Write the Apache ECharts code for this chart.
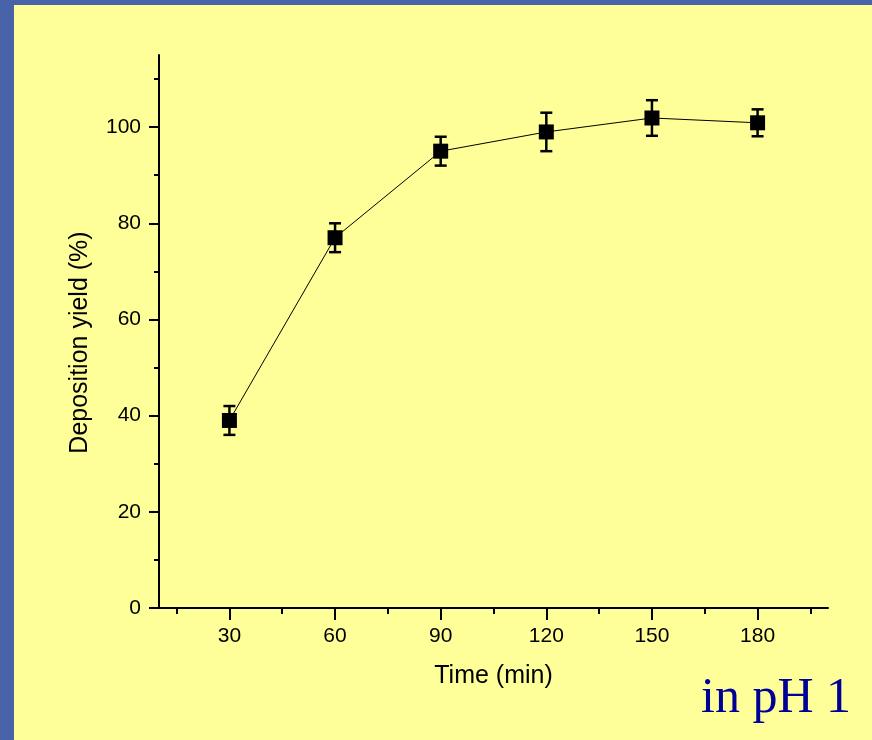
<!DOCTYPE html>
<html>
<head>
<meta charset="utf-8">
<title>Deposition yield vs time</title>
<script src="https://cdn.jsdelivr.net/npm/echarts@6/dist/echarts.min.js"></script>
<style>
  html, body { margin: 0; padding: 0; background: #ffff99; }
  #chart { width: 872px; height: 740px; }
</style>
</head>
<body>
<div id="chart"></div>
<script>
// data
const times = [30, 60, 90, 120, 150, 180]
const yields = [39, 77, 95, 99, 101.9, 100.9]
const errors = [3, 3, 3, 4, 3.7, 2.8]

const xMajorTicks = [30, 60, 90, 120, 150, 180]
const xMinorTicks = [15, 45, 75, 105, 135, 165, 195]
const yMajorTicks = [0, 20, 40, 60, 80, 100]
const yMinorTicks = [10, 30, 50, 70, 90, 110]

const fontSans = '"Liberation Sans", Arial, sans-serif'

const chart = echarts.init(document.getElementById('chart'), null, { renderer: 'canvas' })

// points + error bar ends
const points = times.map((t, i) => [t, yields[i]])
const bars = times.map((t, i) => [t, yields[i] - errors[i], yields[i] + errors[i]])

const axisLine = { show: true, onZero: false, lineStyle: { color: '#000', width: 2 } }

const option = {
    backgroundColor: '#ffff99',
    animation: false,
    grid: { left: 159, right: 44, top: 55, bottom: 132 },
    xAxis: [
        {
            type: 'value',
            position: 'bottom',
            min: 10,
            max: 200,
            name: 'Time (min)',
            nameLocation: 'middle',
            nameGap: 56,
            nameTextStyle: { fontFamily: fontSans, fontSize: 25, color: '#000' },
            axisLine: axisLine,
            axisTick: { show: true, customValues: xMajorTicks, length: 12, lineStyle: { color: '#000', width: 2 } },
            axisLabel: { customValues: xMajorTicks, margin: 18, fontFamily: fontSans, fontSize: 21, color: '#000' },
            splitLine: { show: false }
        },
        {
            // only the small ticks between the labels
            type: 'value',
            position: 'bottom',
            min: 10,
            max: 200,
            axisLine: { show: false, onZero: false },
            axisTick: { show: true, customValues: xMinorTicks, length: 6, lineStyle: { color: '#000', width: 2 } },
            axisLabel: { show: false },
            splitLine: { show: false }
        }
    ],
    yAxis: [
        {
            type: 'value',
            position: 'left',
            min: 0,
            max: 115,
            name: 'Deposition yield (%)',
            nameLocation: 'middle',
            nameGap: 66,
            nameTextStyle: { fontFamily: fontSans, fontSize: 25, color: '#000', padding: [0, 22, 0, 0] },
            axisLine: axisLine,
            axisTick: { show: true, customValues: yMajorTicks, length: 10, lineStyle: { color: '#000', width: 2 } },
            axisLabel: { customValues: yMajorTicks, margin: 18, fontFamily: fontSans, fontSize: 21, color: '#000' },
            splitLine: { show: false }
        },
        {
            type: 'value',
            position: 'left',
            min: 0,
            max: 115,
            axisLine: { show: false, onZero: false },
            axisTick: { show: true, customValues: yMinorTicks, length: 5, lineStyle: { color: '#000', width: 2 } },
            axisLabel: { show: false },
            splitLine: { show: false }
        }
    ],
    series: [
        {
            type: 'custom',
            xAxisIndex: 0,
            yAxisIndex: 0,
            data: bars,
            z: 2,
            renderItem(params, api) {
                const x = api.value(0)
                const top = api.coord([x, api.value(2)])
                const bot = api.coord([x, api.value(1)])
                const half = 6
                const style = { stroke: '#000', lineWidth: 2.5 }
                return {
                    type: 'group',
                    children: [
                        { type: 'line', shape: { x1: top[0], y1: top[1], x2: bot[0], y2: bot[1] }, style: style },
                        { type: 'line', shape: { x1: top[0] - half, y1: top[1], x2: top[0] + half, y2: top[1] }, style: style },
                        { type: 'line', shape: { x1: bot[0] - half, y1: bot[1], x2: bot[0] + half, y2: bot[1] }, style: style }
                    ]
                }
            }
        },
        {
            type: 'line',
            xAxisIndex: 0,
            yAxisIndex: 0,
            data: points,
            z: 3,
            symbol: 'rect',
            symbolSize: 15,
            itemStyle: { color: '#000' },
            lineStyle: { color: '#000', width: 1 }
        }
    ],
    graphic: [
        // blue slide border on the left and top
        { type: 'rect', left: 0, top: 0, shape: { width: 14, height: 740 }, style: { fill: '#4863a8' }, z: 10 },
        { type: 'rect', left: 0, top: 0, shape: { width: 872, height: 5 }, style: { fill: '#4863a8' }, z: 10 },
        {
            type: 'text',
            x: 701,
            y: 699,
            z: 10,
            style: {
                text: 'in pH 1',
                font: '50px "Liberation Serif", "Times New Roman", serif',
                fill: '#000099',
                verticalAlign: 'middle'
            }
        }
    ]
}

chart.setOption(option)
</script>
</body>
</html>
